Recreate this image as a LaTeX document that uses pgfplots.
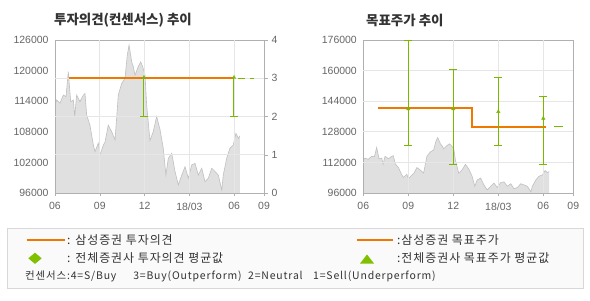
\documentclass[border=0pt]{standalone}
\usepackage{fontspec}
\setmainfont{Liberation Sans}
\newfontfamily\kr{Noto Sans CJK KR}
\newfontfamily\krl[LetterSpace=8]{Noto Sans CJK KR}
\usepackage{pgfplots}
\pgfplotsset{compat=1.18}
\usetikzlibrary{plotmarks}
\definecolor{org}{RGB}{240,120,0}
\definecolor{grn}{RGB}{122,184,0}
\definecolor{grnl}{RGB}{128,192,0}
\definecolor{areaf}{RGB}{224,224,224}
\definecolor{areal}{RGB}{192,192,192}
\definecolor{axc}{RGB}{176,176,176}
\definecolor{gridc}{RGB}{230,230,230}
\definecolor{tickc}{RGB}{102,102,102}
\definecolor{legf}{RGB}{250,250,250}
\definecolor{legb}{RGB}{216,216,216}
\definecolor{txt}{RGB}{51,51,51}
\pgfplotstableread{
m p
0 113250
0.11 114240
0.33 113600
0.56 115200
0.74 114900
0.89 119800
1.05 113900
1.23 114240
1.32 111000
1.45 115200
1.67 113900
1.9 115200
2.01 115500
2.12 111300
2.34 109300
2.57 105400
2.68 104100
2.9 105800
3.01 103450
3.24 105400
3.35 106000
3.57 109300
3.8 108000
4.02 106400
4.13 110700
4.24 115200
4.47 117500
4.69 118500
4.84 123000
4.96 125000
5.14 121700
5.24 120800
5.36 119100
5.58 120800
5.74 121700
5.87 120800
6.03 119100
6.14 113250
6.36 106300
6.58 108000
6.81 111000
7.03 108500
7.25 104800
7.43 99500
7.59 102800
7.82 103800
8.04 100200
8.26 97600
8.49 99500
8.71 101150
8.93 98900
9.16 101500
9.38 101800
9.6 99500
9.83 100840
10.05 98200
10.27 98900
10.5 100840
10.72 100200
10.94 99500
11.17 96600
11.27 99500
11.5 102800
11.72 104800
11.94 105400
12.12 107700
12.28 106700
12.39 107200
}\price
\pgfplotsset{
  base/.style={scale only axis, height=153bp, xmin=0, xmax=14,
    scaled y ticks=false, scaled x ticks=false,
    /pgf/number format/assume math mode=true,
    ticklabel style={font=\fontsize{10.5}{12}\selectfont, text=tickc},
  },
  priceax/.style={base, axis on top, axis line style={draw=axc},
    xtick={0,3,6,9,12,14}, xticklabels={06,09,12,18/03,06,09},
    xtick style={draw=axc}, tick align=outside, xtick pos=bottom,
    major tick length=3bp, ytick style={draw=none}, ytick pos=left,
    xticklabel style={yshift=-3bp}},
  gridax/.style={base, axis line style={draw=none}, xtick={3,6,9,12},
    xticklabels={}, xmajorgrids, ymajorgrids, grid style={gridc, line width=0.8bp},
    xtick style={draw=none}},
}
\begin{document}
\begin{tikzpicture}[x=1bp,y=1bp]
\path[use as bounding box] (0,0) rectangle (590,300);
\fill[white] (0,0) rectangle (590,300);
% titles
\node[anchor=west, inner sep=0, text=txt] at (54,279.5) {\kr\bfseries\fontsize{13.5}{15}\selectfont 투자의견(컨센서스) 추이};
\node[anchor=west, inner sep=0, text=txt] at (366,279.5) {\kr\bfseries\fontsize{13.5}{15}\selectfont 목표주가 추이};
% left chart: price
\begin{axis}[priceax, at={(55bp,107bp)}, width=209bp, ymin=96000, ymax=126000,
  ytick={96000,102000,108000,114000,120000,126000},
  yticklabels={96000,102000,108000,114000,120000,126000}]
\addplot[fill=areaf, draw=none] table[x=m,y=p]{\price} \closedcycle;
\addplot[areal, line width=0.6bp] table[x=m,y=p]{\price};
\end{axis}
% left chart: opinion
\begin{axis}[gridax, at={(55bp,107bp)}, width=209bp, ymin=0, ymax=4,
  ytick={1,2,3}, yticklabels={1,2,3}, ytick pos=right, yticklabel pos=right,
  ytick style={draw=axc}, tick align=outside, major tick length=4bp,
  extra y ticks={0,4}, extra y tick labels={0,4}, extra y tick style={grid=none}]
\addplot[org, line width=2.2bp] coordinates {(0.94,3) (12,3)};
\addplot[grn, line width=1bp, dash pattern=on 7bp off 5bp, dash phase=-2bp] coordinates {(12.1,3) (13.3,3)};
\addplot[grn, line width=1bp] coordinates {(5.96,3) (5.96,2)};
\addplot[grn, line width=1bp] coordinates {(11.99,3) (11.99,2)};
\addplot[grn, line width=1bp, only marks, mark=-, mark size=4bp] coordinates {(5.96,2) (11.99,2)};
\addplot[grn, only marks, mark=triangle*, mark size=2bp] coordinates {(5.96,3.02) (11.99,3.02)};
\end{axis}
% right chart: price
\begin{axis}[priceax, at={(363.3bp,107bp)}, width=210bp, ymin=96000, ymax=176000,
  ytick={96000,112000,128000,144000,160000,176000},
  yticklabels={96000,112000,128000,144000,160000,176000}]
\addplot[fill=areaf, draw=none] table[x=m,y=p]{\price} \closedcycle;
\addplot[areal, line width=0.6bp] table[x=m,y=p]{\price};
\end{axis}
% right chart: target
\begin{axis}[gridax, at={(363.3bp,107bp)}, width=210bp, ymin=96000, ymax=176000,
  ytick={112000,128000,144000,160000}, yticklabels={}, ytick style={draw=none}]
\addplot[org, line width=2.2bp] coordinates {(1,140500) (7.25,140500) (7.25,130700) (12.2,130700)};
\addplot[grn, line width=1bp] coordinates {(12.73,131000) (13.29,131000)};
\addplot[grn, line width=1bp] coordinates {(3,121000) (3,176000)};
\addplot[grn, line width=1bp] coordinates {(6,111000) (6,160500)};
\addplot[grn, line width=1bp] coordinates {(9,121000) (9,156500)};
\addplot[grn, line width=1bp] coordinates {(12,111000) (12,146500)};
\addplot[grn, line width=1bp, only marks, mark=-, mark size=4bp] coordinates {(3,121000) (3,176000) (6,111000) (6,160500) (9,121000) (9,156500) (12,111000) (12,146500)};
\addplot[grn, only marks, mark=triangle*, mark size=2bp] coordinates {(3,140000) (6,140000) (9,138500) (12,135000)};
\end{axis}
% legend
\draw[legb, fill=legf] (7.5,11.5) rectangle (583,71.5);
\draw[org, line width=2bp] (26.5,60) -- (65,60);
\node[anchor=west, inner sep=0, text=txt] at (67,59.5) {\krl\fontsize{12}{14}\selectfont : 삼성증권 투자의견};
\fill[grnl] (35,47.3) -- (41.7,41.7) -- (35,36.1) -- (28.3,41.7) -- cycle;
\node[anchor=west, inner sep=0, text=txt] at (67,41.5) {\krl\fontsize{12}{14}\selectfont : 전체증권사 투자의견 평균값};
\node[anchor=west, inner sep=0, text=txt] at (25,23.5) {\krl\fontsize{10.5}{12}\selectfont 컨센서스:4=S/Buy\quad\ \ 3=Buy(Outperform)\ \ 2=Neutral\quad 1=Sell(Underperform)};
\draw[org, line width=2bp] (357,60) -- (393,60);
\node[anchor=west, inner sep=0, text=txt] at (397,59.5) {\krl\fontsize{12}{14}\selectfont :삼성증권 목표주가};
\fill[grnl] (360,36.5) -- (374,36.5) -- (367,45.5) -- cycle;
\node[anchor=west, inner sep=0, text=txt] at (397,41.5) {\krl\fontsize{12}{14}\selectfont :전체증권사 목표주가 평균값};
\end{tikzpicture}
\end{document}
